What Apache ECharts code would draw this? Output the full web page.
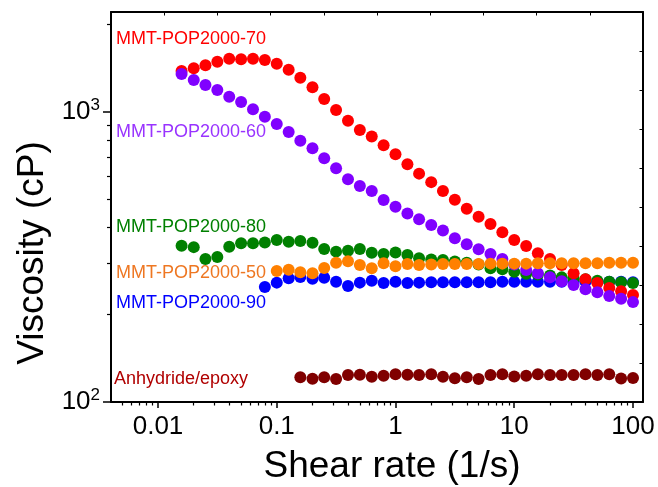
<!DOCTYPE html>
<html><head><meta charset="utf-8">
<script src="https://cdn.jsdelivr.net/npm/echarts@6/dist/echarts.min.js"></script>
<style>html,body{margin:0;padding:0;background:#fff}#c{width:658px;height:487px}</style>
</head><body><div id="c"></div>
<script>
// ---- data ----
const shearRate = [0.0158,0.02,0.0251,0.0316,0.0398,0.0501,0.0631,0.0794,0.1,0.126,0.158,0.2,0.251,0.316,0.398,0.501,0.631,0.794,1,1.26,1.58,2,2.51,3.16,3.98,5.01,6.31,7.94,10,12.6,15.8,20,25.1,31.6,39.8,50.1,63.1,79.4,100];
const visc70 = [1385,1415,1449,1491,1527,1519,1527,1511,1468,1399,1313,1216,1109,1016,933,867,823,768,715,660,613,573,534,498,464,435,411,385,362,345,326,311,297,278,265,257,247,241,234];
const visc60 = [1352,1289,1239,1191,1129,1083,1022,963,909,853,796,750,692,640,586,556,534,497,471,447,427,408,390,367,350,336,324,311,298,285,278,269,261,253,245,239,232,227,221];
const visc80 = [346,342,311,316,343,353,353,355,362,357,359,354,337,330,332,337,327,324,328,321,313,310,309,305,302,298,289,287,281,277,275,273,269,267,265,262,260,259,257];
const visc50 = [283,286,280,278,290,302,306,297,289,301,294,299,297,298,299,299,299,299,300,300,300,300,301,301,301,301,301,301,302,302,302];
const visc90 = [249,258,267,270,266,268,260,251,258,262,257,260,257,258,259,259,259,259,259,259,260,260,260,260,260,260,260,260,260,260,260,259];
const viscEpoxy = [121.7,120.3,121.7,120.0,123.9,124.2,122.2,123.2,124.6,124.2,123.9,124.6,122.2,120.7,121.7,120.0,123.9,124.6,122.5,123.2,124.6,124,123.9,123.9,124.6,124,124.6,120.5,121];
// index in shearRate where each series starts
const start70 = 0, start60 = 0, start80 = 0, start50 = 8, start90 = 7, startEpoxy = 10;
const seriesNames = ['MMT-POP2000-70','MMT-POP2000-60','MMT-POP2000-80','MMT-POP2000-50','MMT-POP2000-90','Anhydride/epoxy'];
const xMajor = [0.01,0.1,1,10,100];
const xMajorLabels = ['0.01','0.1','1','10','100'];
const xMinor = [0.005,0.006,0.007,0.008,0.009,0.02,0.03,0.04,0.05,0.06,0.07,0.08,0.09,0.2,0.3,0.4,0.5,0.6,0.7,0.8,0.9,2,3,4,5,6,7,8,9,20,30,40,50,60,70,80,90];
const yMajor = [100,1000];
const yMajorExp = ['2','3'];
const yMinor = [200,300,400,500,600,700,800,900,2000];
const xTitle = 'Shear rate (1/s)';
const yTitle = 'Viscosity (cP)';

// ---- chart ----
const FONT = '"Liberation Sans", Arial, Helvetica, sans-serif';
const chart = echarts.init(document.getElementById('c'), null, {renderer:'canvas'});
const pairs = (arr, st) => arr.map((v, i) => [shearRate[i + st], v]);
const mk = (name, data, color) => ({
  name, type:'scatter', data, xAxisIndex:0, yAxisIndex:0,
  symbol:'circle', symbolSize:12, itemStyle:{color, opacity:1},
  emphasis:{disabled:true}, animation:false
});
const X0 = 0.00402, X1 = 121.4, Y0 = 100, Y1 = 2212;
const black = '#000';
const fmtX = v => { for (let i=0;i<xMajor.length;i++){ if (Math.abs(Math.log10(v)-Math.log10(xMajor[i]))<1e-6) return xMajorLabels[i]; } return ''; };
const fmtY = v => { for (let i=0;i<yMajor.length;i++){ if (Math.abs(Math.log10(v)-Math.log10(yMajor[i]))<1e-6) return '{b|10}{s|'+yMajorExp[i]+'}'; } return ''; };

const option = {
  backgroundColor:'#fff',
  animation:false,
  grid:{left:111, right:15, top:12, bottom:85, containLabel:false, outerBoundsMode:'none'},
  xAxis:[
    {type:'log', logBase:10, min:X0, max:X1, position:'bottom',
     axisLine:{show:true, lineStyle:{color:black, width:2}},
     axisTick:{show:true, inside:false, length:6, lineStyle:{color:black, width:1.5}, customValues:xMajor},
     axisLabel:{show:true, customValues:xMajor, formatter:fmtX, color:black, fontSize:26, fontFamily:FONT, margin:12},
     minorTick:{show:false}, splitLine:{show:false}},
    {type:'log', logBase:10, min:X0, max:X1, position:'bottom',
     axisLine:{show:false},
     axisTick:{show:true, inside:false, length:3.5, lineStyle:{color:black, width:1.2}, customValues:xMinor},
     axisLabel:{show:false}, splitLine:{show:false}},
    {type:'value', min:0, max:10, interval:1, position:'top',
     axisLine:{show:true, lineStyle:{color:black, width:2}},
     axisTick:{show:true, inside:true, length:3.5, lineStyle:{color:black, width:1}},
     axisLabel:{show:false}, splitLine:{show:false}}
  ],
  yAxis:[
    {type:'log', logBase:10, min:Y0, max:Y1, position:'left',
     axisLine:{show:true, lineStyle:{color:black, width:2}},
     axisTick:{show:true, inside:false, length:8, lineStyle:{color:black, width:1.5}, customValues:yMajor},
     axisLabel:{show:true, customValues:yMajor, formatter:fmtY, margin:11,
       rich:{b:{fontSize:26, fontFamily:FONT, color:black, lineHeight:30},
             s:{fontSize:17, fontFamily:FONT, color:black, verticalAlign:'top', lineHeight:30}}},
     splitLine:{show:false}},
    {type:'log', logBase:10, min:Y0, max:Y1, position:'left',
     axisLine:{show:false},
     axisTick:{show:true, inside:false, length:4, lineStyle:{color:black, width:1.2}, customValues:yMinor},
     axisLabel:{show:false}, splitLine:{show:false}},
    {type:'value', min:0, max:10, interval:1, position:'right',
     axisLine:{show:true, lineStyle:{color:black, width:2}},
     axisTick:{show:true, inside:true, length:3.5, lineStyle:{color:black, width:1}},
     axisLabel:{show:false}, splitLine:{show:false}}
  ],
  series:[
    mk(seriesNames[5], pairs(viscEpoxy, startEpoxy), '#800000'),
    mk(seriesNames[4], pairs(visc90, start90), '#0000ff'),
    mk(seriesNames[2], pairs(visc80, start80), '#008000'),
    mk(seriesNames[0], pairs(visc70, start70), '#ff0000'),
    mk(seriesNames[1], pairs(visc60, start60), '#8000ff'),
    mk(seriesNames[3], pairs(visc50, start50), '#ff8000')
  ],
  graphic:[
    {type:'text', x:116, y:39, style:{text:seriesNames[0], fill:'#ff0000', font:'18px '+FONT, textVerticalAlign:'middle'}},
    {type:'text', x:116, y:132, style:{text:seriesNames[1], fill:'#9933ff', font:'18px '+FONT, textVerticalAlign:'middle'}},
    {type:'text', x:116, y:227, style:{text:seriesNames[2], fill:'#008000', font:'18px '+FONT, textVerticalAlign:'middle'}},
    {type:'text', x:116, y:273, style:{text:seriesNames[3], fill:'#ee7722', font:'18px '+FONT, textVerticalAlign:'middle'}},
    {type:'text', x:116, y:303, style:{text:seriesNames[4], fill:'#0000ff', font:'18px '+FONT, textVerticalAlign:'middle'}},
    {type:'text', x:114, y:379, style:{text:seriesNames[5], fill:'#b00000', font:'18px '+FONT, textVerticalAlign:'middle'}},
    {type:'text', x:392, y:467, style:{text:xTitle, fill:black, font:'37px '+FONT, textAlign:'center', textVerticalAlign:'middle'}},
    {type:'text', x:33, y:253, rotation:Math.PI/2, style:{text:yTitle, fill:black, font:'37px '+FONT, textAlign:'center', textVerticalAlign:'middle'}}
  ]
};
chart.setOption(option);
</script>
</body></html>
